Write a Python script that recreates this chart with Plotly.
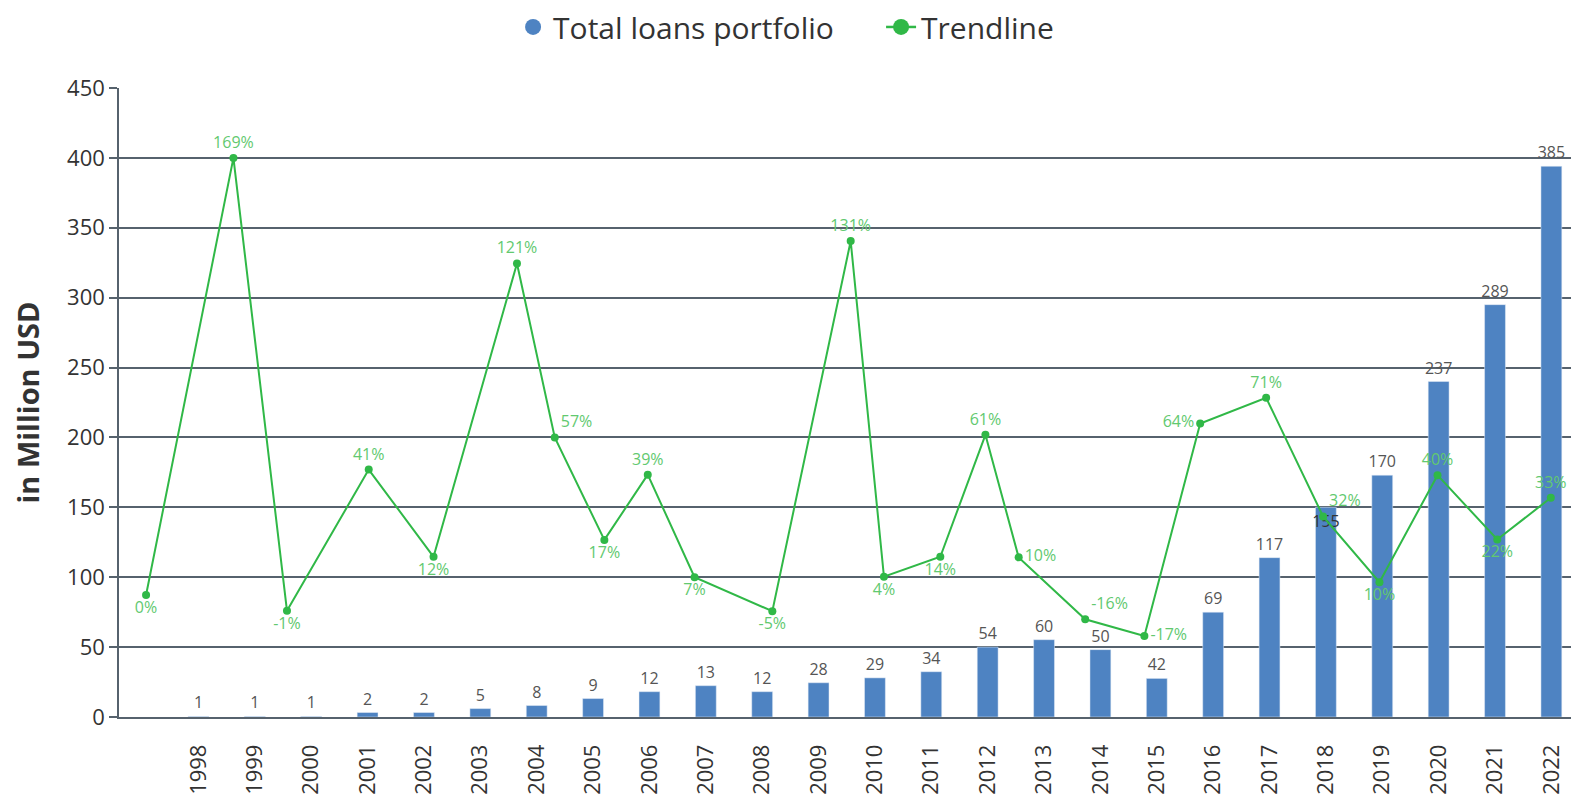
import plotly.graph_objects as go

years = list(range(1998, 2023))
year_labels = [str(y) for y in years]
loans_values = [0.4, 0.4, 0.4, 3.2, 3.2, 6.0, 8.2, 13.2, 18.1, 22.4, 18.1, 24.5, 28.0,
                32.4, 50.0, 55.3, 48.2, 27.6, 75.0, 114.0, 150.0, 173.0, 240.0, 295.0, 394.0]
loans_labels = ["1", "1", "1", "2", "2", "5", "8", "9", "12", "13", "12", "28", "29",
                "34", "54", "60", "50", "42", "69", "117", "155", "170", "237", "289", "385"]

trend_x = [1997.07, 1998.62, 1999.57, 2001.02, 2002.17, 2003.65, 2004.32, 2005.20, 2005.97,
           2006.80, 2008.18, 2009.57, 2010.16, 2011.16, 2011.96, 2012.55, 2013.73, 2014.78,
           2015.77, 2016.94, 2017.95, 2018.95, 2019.98, 2021.04, 2021.99]
trend_values = [87.3, 400.0, 76.0, 177.0, 114.6, 324.5, 200.0, 126.7, 173.4, 100.0, 75.7,
                340.5, 100.4, 114.6, 201.9, 114.2, 69.9, 58.0, 210.0, 228.4, 143.5, 96.4,
                173.0, 127.0, 156.8]
trend_labels = ["0%", "169%", "-1%", "41%", "12%", "121%", "57%", "17%", "39%", "7%", "-5%",
                "131%", "4%", "14%", "61%", "10%", "-16%", "-17%", "64%", "71%", "32%", "10%",
                "40%", "22%", "33%"]
trend_label_pos = ["bottom center", "top center", "bottom center", "top center", "bottom center",
                   "top center", "top right", "bottom center", "top center", "bottom center",
                   "bottom center", "top center", "bottom center", "bottom center", "top center",
                   "middle right", "top right", "middle right", "middle left", "top center",
                   "top right", "bottom center", "top center", "bottom center", "top center"]
bar_label_pos = ["outside"] * 25
bar_label_pos[20] = "inside"

y_ticks = [0, 50, 100, 150, 200, 250, 300, 350, 400, 450]

BLUE = "#4e83c2"
GREEN = "#30b847"
GREEN_TEXT = "#62c96f"
GRID = "#56626d"
FONT = "Open Sans"

fig = go.Figure()

fig.add_trace(go.Bar(
    x=years, y=loans_values, text=loans_labels, textposition=bar_label_pos,
    insidetextanchor="end", constraintext="none", textangle=0, cliponaxis=False,
    textfont=dict(family=FONT, size=16, color="#555555"),
    insidetextfont=dict(family=FONT, size=16, color="#333333"),
    outsidetextfont=dict(family=FONT, size=16, color="#555555"),
    marker=dict(color=BLUE), width=0.37, showlegend=False, name="Total loans portfolio",
))

fig.add_trace(go.Scatter(
    x=trend_x, y=trend_values, mode="lines+markers+text", text=trend_labels,
    textposition=trend_label_pos, cliponaxis=False,
    textfont=dict(family=FONT, size=16, color=GREEN_TEXT),
    line=dict(color=GREEN, width=2), marker=dict(color=GREEN, size=8),
    showlegend=False, name="Trendline",
))

# legend entries
fig.add_trace(go.Scatter(x=[None], y=[None], mode="markers", name="Total loans portfolio",
                         marker=dict(color=BLUE, size=16, symbol="circle")))
fig.add_trace(go.Scatter(x=[None], y=[None], mode="lines+markers", name="Trendline",
                         line=dict(color=GREEN, width=2.5),
                         marker=dict(color=GREEN, size=16, symbol="circle")))

fig.update_layout(
    width=1571, height=787,
    margin=dict(l=111, r=0, t=80, b=75),
    paper_bgcolor="white", plot_bgcolor="white",
    font=dict(family=FONT, color="#333333"),
    legend=dict(orientation="h", xref="container", yref="container",
                x=0.3215, xanchor="left", y=0.9759, yanchor="middle",
                font=dict(family=FONT, size=30, color="#333333"),
                itemwidth=30, entrywidth=323, entrywidthmode="pixels"),
    xaxis=dict(
        range=[1996.59, 2022.49], tickmode="array", tickvals=years, ticktext=year_labels,
        tickangle=-90, tickfont=dict(family=FONT, size=22, color="#333333"),
        showgrid=False, zeroline=False, showline=True, linecolor=GRID, linewidth=1.5,
        ticks="outside", ticklen=17, tickcolor="rgba(0,0,0,0)",
    ),
    yaxis=dict(
        range=[0, 450], tickmode="array", tickvals=y_ticks,
        tickfont=dict(family=FONT, size=22, color="#333333"),
        showgrid=True, gridcolor=GRID, gridwidth=1.5, zeroline=False,
        showline=True, linecolor=GRID, linewidth=1.5,
        ticks="outside", ticklen=8, tickcolor=GRID, tickwidth=1.5,
        title=dict(text="<b>in Million USD</b>", standoff=31,
                   font=dict(family=FONT, size=29, color="#333333")),
    ),
)

fig.write_html("out.html")
